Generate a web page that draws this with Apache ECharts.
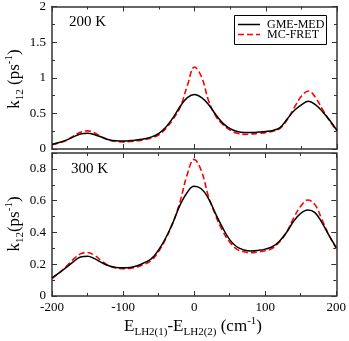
<!DOCTYPE html>
<html>
<head>
<meta charset="utf-8">
<script src="https://cdn.jsdelivr.net/npm/echarts@6/dist/echarts.min.js"></script>
<style>
html, body { margin: 0; padding: 0; background: #fff; }
#main { width: 349px; height: 341px; }
</style>
</head>
<body>
<div id="main"></div>
<script>
// energy gap E_LH2(1) - E_LH2(2), cm^-1
var xs = [-200, -190, -180, -170, -160, -150, -140, -130, -120, -110, -100,
          -90, -80, -70, -60, -50, -40, -30, -20, -10, 0,
          10, 20, 30, 40, 50, 60, 70, 80, 90, 100,
          110, 120, 130, 140, 150, 160, 170, 180, 190, 200];

// 200 K
var gme200 = [0.065, 0.09, 0.125, 0.17, 0.21, 0.22, 0.20, 0.165, 0.13, 0.115, 0.112,
              0.118, 0.13, 0.145, 0.17, 0.22, 0.31, 0.44, 0.60, 0.72, 0.765,
              0.72, 0.62, 0.48, 0.36, 0.285, 0.245, 0.232, 0.233, 0.238, 0.245,
              0.26, 0.30, 0.42, 0.54, 0.62, 0.67, 0.62, 0.52, 0.40, 0.26];
var mc200 = [0.06, 0.085, 0.12, 0.18, 0.235, 0.255, 0.225, 0.17, 0.125, 0.105, 0.10,
             0.105, 0.115, 0.13, 0.155, 0.20, 0.29, 0.42, 0.59, 0.89, 1.15,
             1.01, 0.67, 0.46, 0.34, 0.265, 0.22, 0.205, 0.21, 0.22, 0.23,
             0.25, 0.29, 0.41, 0.58, 0.74, 0.815, 0.72, 0.55, 0.39, 0.25];

// 300 K
var gme300 = [0.114, 0.145, 0.18, 0.215, 0.245, 0.25, 0.235, 0.21, 0.19, 0.18, 0.178,
              0.18, 0.19, 0.21, 0.235, 0.29, 0.365, 0.46, 0.57, 0.65, 0.69,
              0.675, 0.615, 0.52, 0.43, 0.355, 0.31, 0.29, 0.283, 0.287, 0.295,
              0.31, 0.345, 0.40, 0.47, 0.52, 0.541, 0.525, 0.46, 0.38, 0.305];
var mc300 = [0.11, 0.145, 0.185, 0.23, 0.265, 0.274, 0.255, 0.22, 0.19, 0.176, 0.172,
             0.174, 0.183, 0.20, 0.225, 0.28, 0.36, 0.46, 0.59, 0.76, 0.86,
             0.79, 0.63, 0.51, 0.41, 0.34, 0.295, 0.278, 0.272, 0.277, 0.285,
             0.30, 0.34, 0.40, 0.49, 0.565, 0.604, 0.575, 0.48, 0.38, 0.30];

var names = ['GME-MED', 'MC-FRET'];

var FONT = 'Liberation Serif';
var frame = '#333';
var BLACK_LINE = { stroke: '#000', lineWidth: 1.5 };
var RED_LINE = { stroke: '#ff0000', lineWidth: 1.6, lineDash: [6, 3] };

function pairs(ys) {
  return xs.map(function (x, i) { return [x, ys[i]]; });
}

function xAx(grid, pos, showLabels) {
  return {
    type: 'value', gridIndex: grid, position: pos,
    min: -200, max: 200, interval: 100,
    axisLine: { show: true, onZero: false, lineStyle: { color: frame, width: 1.5 } },
    axisTick: { show: true, inside: true, length: 5, lineStyle: { color: frame } },
    minorTick: { show: true, splitNumber: 2, length: 3, lineStyle: { color: frame } },
    splitLine: { show: false },
    axisLabel: { show: showLabels, color: '#000', fontFamily: FONT, fontSize: 13, margin: 5 }
  };
}

function yAx(grid, pos, max, interval, showLabels) {
  return {
    type: 'value', gridIndex: grid, position: pos,
    min: 0, max: max, interval: interval,
    axisLine: { show: true, onZero: false, lineStyle: { color: frame, width: 1.5 } },
    axisTick: { show: true, inside: true, length: 5, lineStyle: { color: frame } },
    minorTick: { show: true, splitNumber: 2, length: 3, lineStyle: { color: frame } },
    splitLine: { show: false },
    axisLabel: { show: showLabels, color: '#000', fontFamily: FONT, fontSize: 13, margin: 6,
                 showMaxLabel: max !== 0.9 }
  };
}

function line(name, ys, xi, yi, dashed) {
  return {
    name: name, type: 'line', xAxisIndex: xi, yAxisIndex: yi,
    data: pairs(ys), symbol: 'none', smooth: 0.4,
    lineStyle: dashed ? { color: '#ff0000', width: 1.6, type: [6, 3] } : { color: '#000', width: 1.5 },
    itemStyle: { color: dashed ? '#ff0000' : '#000' },
    z: dashed ? 3 : 4
  };
}

var rich = {
  n: { fontFamily: FONT, fontSize: 17, color: '#000', verticalAlign: 'middle', lineHeight: 22 },
  sub: { fontFamily: FONT, fontSize: 11, color: '#000', verticalAlign: 'bottom', lineHeight: 11 },
  sup: { fontFamily: FONT, fontSize: 11, color: '#000', verticalAlign: 'top', lineHeight: 11 }
};

// legend box drawn by hand (framed, line samples only)
var legendBox = [
  { type: 'rect', shape: { x: 234.5, y: 15.5, width: 92, height: 29 },
    style: { fill: '#fff', stroke: '#000', lineWidth: 1 }, z: 10 },
  { type: 'line', shape: { x1: 238, y1: 24.5, x2: 260, y2: 24.5 }, style: BLACK_LINE, z: 11 },
  { type: 'line', shape: { x1: 238, y1: 34.5, x2: 260, y2: 34.5 }, style: RED_LINE, z: 11 },
  { type: 'text', x: 267, y: 25, z: 11,
    style: { text: names[0], fontFamily: FONT, fontSize: 12, fill: '#000', verticalAlign: 'middle' } },
  { type: 'text', x: 267, y: 35, z: 11,
    style: { text: names[1], fontFamily: FONT, fontSize: 12, fill: '#000', verticalAlign: 'middle' } }
];

var myChart = echarts.init(document.getElementById('main'));
var option = {
  animation: false,
  backgroundColor: '#fff',
  grid: [
    { left: 52, right: 12, top: 6, height: 143 },
    { left: 52, right: 12, top: 153, height: 143 }
  ],
  xAxis: [xAx(0, 'bottom', false), xAx(0, 'top', false), xAx(1, 'bottom', true), xAx(1, 'top', false)],
  yAxis: [yAx(0, 'left', 2, 0.5, true), yAx(0, 'right', 2, 0.5, false),
          yAx(1, 'left', 0.9, 0.2, true), yAx(1, 'right', 0.9, 0.2, false)],
  series: [
    line(names[0], gme200, 0, 0, false),
    line(names[1], mc200, 0, 0, true),
    line(names[0], gme300, 2, 2, false),
    line(names[1], mc300, 2, 2, true)
  ],
  graphic: [
    { type: 'text', left: 69, top: 15, style: { text: '200 K', fontFamily: FONT, fontSize: 15, fill: '#000' } },
    { type: 'text', left: 71, top: 162, style: { text: '300 K', fontFamily: FONT, fontSize: 15, fill: '#000' } },
    { type: 'text', x: 15, y: 79, rotation: Math.PI / 2,
      style: { text: '{n|k}{sub|12}{n| (ps}{sup|-1}{n|)}', rich: rich, align: 'center', verticalAlign: 'middle' } },
    { type: 'text', x: 15, y: 224, rotation: Math.PI / 2,
      style: { text: '{n|k}{sub|12}{n|(ps}{sup|-1}{n|)}', rich: rich, align: 'center', verticalAlign: 'middle' } },
    { type: 'text', x: 193, y: 327,
      style: { text: '{n|E}{sub|LH2(1)}{n|-E}{sub|LH2(2)}{n| (cm}{sup|-1}{n|)}', rich: rich, align: 'center', verticalAlign: 'middle' } }
  ].concat(legendBox)
};
myChart.setOption(option);
</script>
</body>
</html>
